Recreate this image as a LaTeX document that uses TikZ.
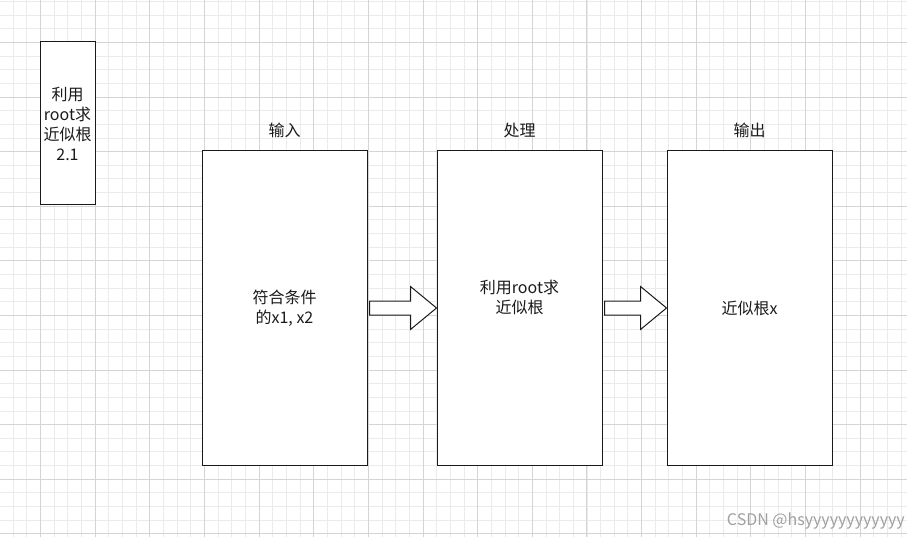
\documentclass[tikz,border=0pt]{standalone}
\usepackage{fontspec}
\setmainfont{Noto Sans CJK SC}
\usetikzlibrary{positioning,calc}

\definecolor{gridminor}{HTML}{EBEBEB}
\definecolor{gridmajor}{HTML}{D4D4D4}
\definecolor{inkgray}{HTML}{1A1A1A}
\definecolor{markgray}{HTML}{A0A0A0}

\tikzset{
    box/.style     = {draw=inkgray, line width=1pt, fill=white, inner sep=0pt,
                      align=center, text=inkgray},
    bigbox/.style  = {box, minimum width=165pt, minimum height=314pt},
    title/.style   = {text=inkgray, inner sep=0pt, align=center},
    fatarrow/.style= {draw=inkgray, line width=1pt, fill=white, line join=miter},
}

% block arrow from the east side of #1 to the west side of #2
\newcommand{\blockarrow}[2]{%
    \draw[fatarrow] ($(#1.east)+(2,-7)$) -- ($(#2.west)+(-26,-7)$)
        -- ($(#2.west)+(-26,-21.5)$) -- (#2.west) -- ($(#2.west)+(-26,21.5)$)
        -- ($(#2.west)+(-26,7)$) -- ($(#1.east)+(2,7)$) -- cycle;}

\begin{document}
\begin{tikzpicture}[x=1pt, y=-1pt, font=\fontsize{16}{20}\selectfont]

\useasboundingbox (0,0) rectangle (907,537);
\fill[white] (0,0) rectangle (907,537);

% grid
\foreach \i in {-2,...,63}
    \draw[gridminor, line width=1pt] ({round(40+\i*13.6625)+0.5},0) -- ({round(40+\i*13.6625)+0.5},537);
\foreach \i in {-3,...,36}
    \draw[gridminor, line width=1pt] (0,{round(42+\i*13.65)+0.5}) -- (907,{round(42+\i*13.65)+0.5});
\foreach \i in {0,...,15}
    \draw[gridmajor, line width=1.6pt] ({round(40+\i*54.65)+0.5},0) -- ({round(40+\i*54.65)+0.5},537);
\foreach \i in {0,...,9}
    \draw[gridmajor, line width=1.6pt] (0,{round(42+\i*54.6)+0.5}) -- (907,{round(42+\i*54.6)+0.5});

% small box
\node[box, minimum width=55pt, minimum height=163pt] (note) at (67.5,123.5)
    {利用\\root求\\近似根\\2.1};

% three stages
\node[bigbox] (in) at (284.5,308) {符合条件\\的x1, x2};
\node[bigbox] (proc) at (519.5,308) {};
\node[title] (proctxt) at ([yshift=11pt]proc.center) {利用root求\\近似根};
\node[bigbox] (out) at (749.5,308) {近似根x};

\node[title] (inlbl) at ([yshift=20pt]in.north) {输入};
\node[title] (proclbl) at ([yshift=20pt]proc.north) {处理};
\node[title] (outlbl) at ([yshift=20pt]out.north) {输出};

\blockarrow{in}{proc}
\blockarrow{proc}{out}

\node[anchor=east, text=markgray, inner sep=0pt, font=\fontsize{16}{18}\selectfont] (mark)
    at (905,521) {CSDN @hsyyyyyyyyyyyy};

\end{tikzpicture}
\end{document}
